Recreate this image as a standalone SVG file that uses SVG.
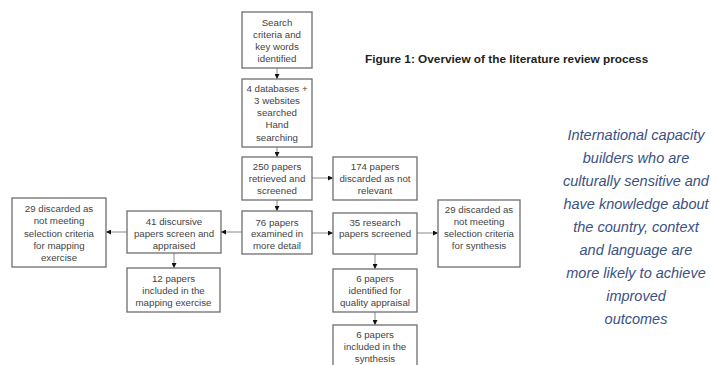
<svg xmlns="http://www.w3.org/2000/svg" width="711" height="365" viewBox="0 0 711 365">
<style>
.box{fill:#ffffff;stroke:#6e6e6e;stroke-width:1.3}
.t{font-family:"Liberation Sans",Arial,sans-serif;font-size:9.7px;fill:#444444;text-anchor:middle}
.title{font-family:"Liberation Sans",Arial,sans-serif;font-size:11.8px;font-weight:bold;fill:#222222}
.q{font-family:"Liberation Sans",Arial,sans-serif;font-size:14.5px;font-style:italic;fill:#3a5283;text-anchor:middle}
.c{stroke:#8a8a8a;stroke-width:1;fill:none;marker-end:url(#ah)}
</style>
<defs>
<marker id="ah" markerUnits="userSpaceOnUse" markerWidth="5" markerHeight="5" refX="5" refY="2.5" orient="auto">
<path d="M0,0 L5,2.5 L0,5 z" fill="#111111"/>
</marker>
</defs>
<rect width="711" height="365" fill="#ffffff"/>

<text class="title" x="365" y="63">Figure 1: Overview of the literature review process</text>

<g id="quote">
<text class="q" x="636" y="140">International capacity</text>
<text class="q" x="636" y="163">builders who are</text>
<text class="q" x="636" y="186">culturally sensitive and</text>
<text class="q" x="636" y="209">have knowledge about</text>
<text class="q" x="636" y="232">the country, context</text>
<text class="q" x="636" y="255">and language are</text>
<text class="q" x="636" y="278">more likely to achieve</text>
<text class="q" x="636" y="301">improved</text>
<text class="q" x="636" y="324">outcomes</text>
</g>

<g id="connectors">
<line class="c" x1="277" y1="68" x2="277" y2="79"/>
<line class="c" x1="277" y1="147" x2="277" y2="157"/>
<line class="c" x1="277" y1="200" x2="277" y2="211"/>
<line class="c" x1="312" y1="178" x2="333" y2="178"/>
<line class="c" x1="312" y1="233" x2="333" y2="233"/>
<line class="c" x1="242" y1="232" x2="221" y2="232"/>
<line class="c" x1="127" y1="232" x2="106" y2="232"/>
<line class="c" x1="174" y1="253" x2="174" y2="268"/>
<line class="c" x1="417" y1="233" x2="438" y2="233"/>
<line class="c" x1="375" y1="254" x2="375" y2="269"/>
<line class="c" x1="375" y1="312" x2="375" y2="325"/>
</g>

<g id="n1">
<rect class="box" x="242" y="12" width="70" height="56"/>
<text class="t" x="277" y="25.5">Search</text>
<text class="t" x="277" y="37.5">criteria and</text>
<text class="t" x="277" y="49.5">key words</text>
<text class="t" x="277" y="61.5">identified</text>
</g>

<g id="n2">
<rect class="box" x="242" y="79" width="70" height="68"/>
<text class="t" x="277" y="91.5">4 databases +</text>
<text class="t" x="277" y="103.8">3 websites</text>
<text class="t" x="277" y="116.1">searched</text>
<text class="t" x="277" y="128.4">Hand</text>
<text class="t" x="277" y="140.7">searching</text>
</g>

<g id="n3">
<rect class="box" x="242" y="157" width="70" height="43"/>
<text class="t" x="277" y="169.5">250 papers</text>
<text class="t" x="277" y="181.5">retrieved and</text>
<text class="t" x="277" y="193.5">screened</text>
</g>

<g id="n4">
<rect class="box" x="333" y="157" width="84" height="43"/>
<text class="t" x="375" y="169.5">174 papers</text>
<text class="t" x="375" y="181.5">discarded as not</text>
<text class="t" x="375" y="193.5">relevant</text>
</g>

<g id="n5">
<rect class="box" x="242" y="211" width="70" height="43"/>
<text class="t" x="277" y="225.5">76 papers</text>
<text class="t" x="277" y="237">examined in</text>
<text class="t" x="277" y="248.5">more detail</text>
</g>

<g id="n6">
<rect class="box" x="333" y="213" width="84" height="41"/>
<text class="t" x="375" y="225.5">35 research</text>
<text class="t" x="375" y="237">papers screened</text>
</g>

<g id="n7">
<rect class="box" x="438" y="200" width="82" height="67"/>
<text class="t" x="479" y="212.5">29 discarded as</text>
<text class="t" x="479" y="224.5">not meeting</text>
<text class="t" x="479" y="237">selection criteria</text>
<text class="t" x="479" y="249">for synthesis</text>
</g>

<g id="n8">
<rect class="box" x="127" y="211" width="94" height="42"/>
<text class="t" x="174" y="224.5">41 discursive</text>
<text class="t" x="174" y="236.5">papers screen and</text>
<text class="t" x="174" y="248.5">appraised</text>
</g>

<g id="n9">
<rect class="box" x="12" y="198" width="94" height="69"/>
<text class="t" x="59" y="211.5">29 discarded as</text>
<text class="t" x="59" y="224">not meeting</text>
<text class="t" x="59" y="236.5">selection criteria</text>
<text class="t" x="59" y="248.5">for mapping</text>
<text class="t" x="59" y="260.5">exercise</text>
</g>

<g id="n10">
<rect class="box" x="127" y="268" width="93" height="44"/>
<text class="t" x="173.5" y="281.5">12 papers</text>
<text class="t" x="173.5" y="293.5">included in the</text>
<text class="t" x="173.5" y="305.5">mapping exercise</text>
</g>

<g id="n11">
<rect class="box" x="333" y="269" width="84" height="43"/>
<text class="t" x="375" y="281.5">6 papers</text>
<text class="t" x="375" y="293.5">identified for</text>
<text class="t" x="375" y="305.5">quality appraisal</text>
</g>

<g id="n12">
<rect class="box" x="333" y="325" width="84" height="43"/>
<text class="t" x="375" y="337.5">6 papers</text>
<text class="t" x="375" y="349.5">included in the</text>
<text class="t" x="375" y="361.5">synthesis</text>
</g>
</svg>
